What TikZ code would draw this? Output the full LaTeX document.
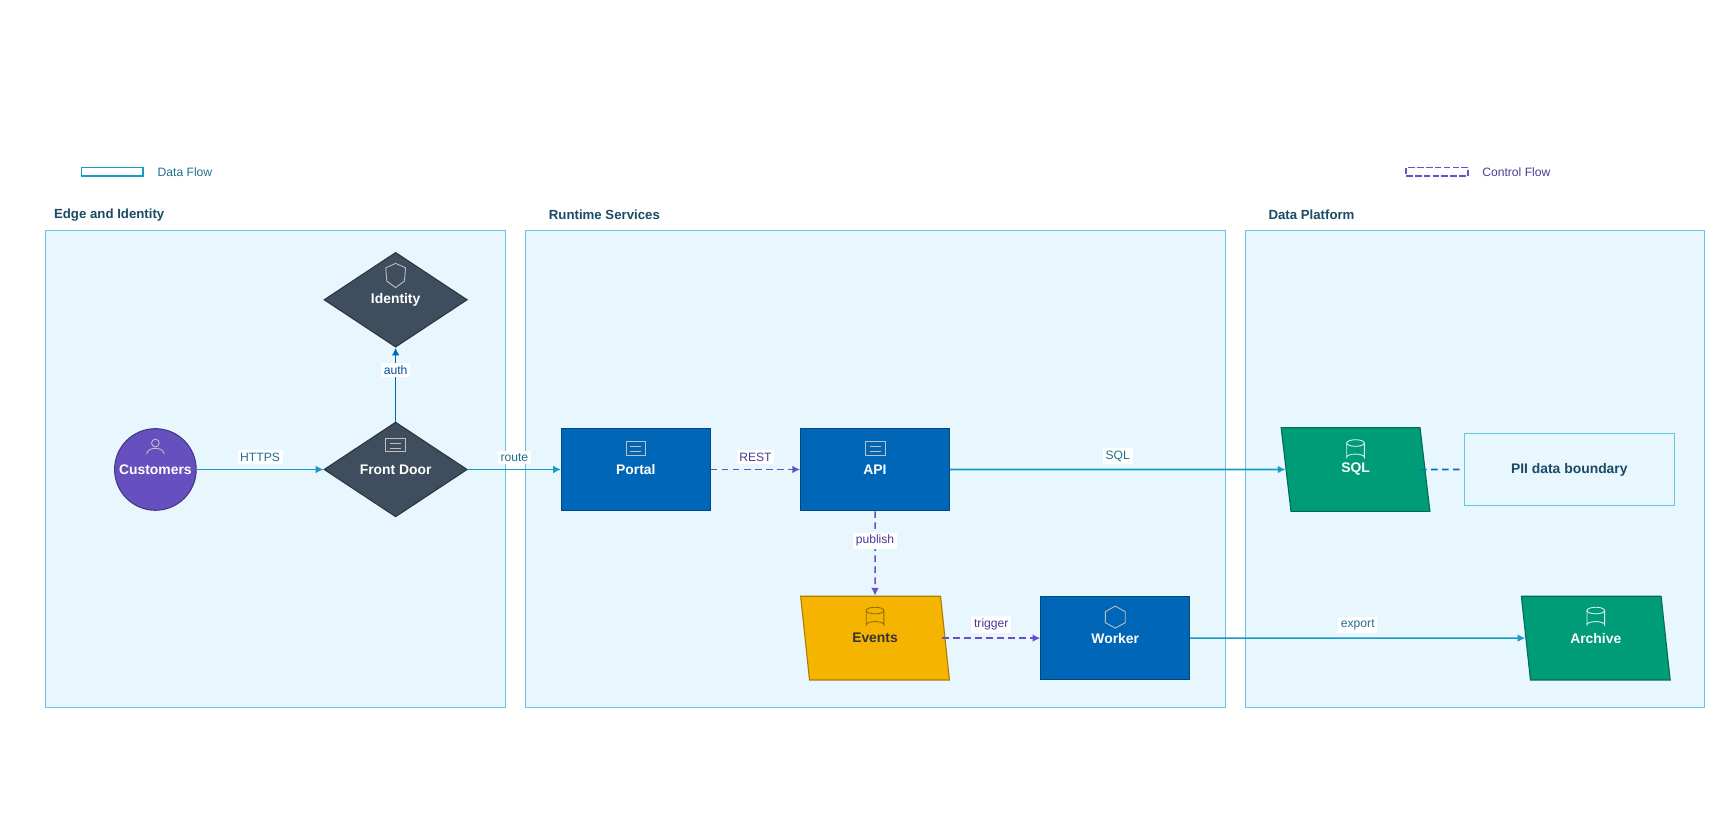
\documentclass[tikz,border=0pt]{standalone}
\usepackage{fontspec}
\setmainfont{Liberation Sans}
\usetikzlibrary{shapes.geometric,arrows.meta,positioning}

\definecolor{grpfill}{HTML}{E8F6FD}
\definecolor{grpline}{HTML}{6BC3E0}
\definecolor{dataflow}{HTML}{1A9BC4}
\definecolor{datatext}{HTML}{1F6E8C}
\definecolor{ctrlflow}{HTML}{6A4FC8}
\definecolor{ctrltext}{HTML}{4B3A99}
\definecolor{persona}{HTML}{6650C0}
\definecolor{slate}{HTML}{3F4E5F}
\definecolor{azure}{HTML}{0067B8}
\definecolor{amber}{HTML}{F4B400}
\definecolor{jade}{HTML}{009B77}
\definecolor{titletext}{HTML}{1B4A66}

\tikzset{
  group/.style={draw=grpline, fill=grpfill, line width=0.5pt},
  grptitle/.style={anchor=west, text=titletext, font=\bfseries\fontsize{6}{7}\selectfont},
  box/.style={rectangle, draw=azure!70!black, fill=azure, text=white, minimum width=67.5pt, minimum height=37.5pt, font=\bfseries\fontsize{6.3}{8}\selectfont, line width=0.5pt},
  gate/.style={diamond, aspect=1.5, draw=slate!70!black, fill=slate, text=white, minimum width=65pt, minimum height=43pt, inner sep=0pt, font=\bfseries\fontsize{6.3}{8}\selectfont, line width=0.5pt},
  store/.style={trapezium, trapezium left angle=110, trapezium right angle=70, trapezium stretches body, minimum width=67.5pt, minimum height=38pt, text=white, font=\bfseries\fontsize{6.3}{8}\selectfont, line width=0.5pt},
  data/.style={draw=dataflow, line width=0.7pt, -{Latex[length=3.5pt,width=3.5pt]}},
  ctrl/.style={draw=ctrlflow, line width=0.7pt, dash pattern=on 3pt off 2pt, -{Latex[length=3.5pt,width=3.5pt]}},
  dlabel/.style={fill=white, text=datatext, inner sep=1.2pt, font=\fontsize{5.5}{6}\selectfont},
  clabel/.style={fill=white, text=ctrltext, inner sep=1.2pt, font=\fontsize{5.5}{6}\selectfont},
  icon/.style={draw=white!75!black, line width=0.4pt}
}

\begin{document}
\begin{tikzpicture}[x=0.5pt,y=-0.5pt]
  \useasboundingbox (0,0) rectangle (1568,740);

  %% LEGEND
  \draw[dataflow, line width=0.8pt] (74,152) rectangle (130,160);
  \node[anchor=west, text=datatext, font=\fontsize{5.5}{6}\selectfont] at (136,156) {Data Flow};
  \draw[ctrlflow, line width=0.8pt, dash pattern=on 3pt off 1pt] (1276,152) rectangle (1332,160);
  \node[anchor=west, text=ctrltext, font=\fontsize{5.5}{6}\selectfont] at (1338,156) {Control Flow};

  %% GROUPS
  \draw[group] (41,209) rectangle (459,642);
  \node[grptitle] at (42,195) {Edge and Identity};
  \draw[group] (477,209) rectangle (1112,642);
  \node[grptitle] at (491,195) {Runtime Services};
  \draw[group] (1130,209) rectangle (1547,642);
  \node[grptitle] at (1144,195) {Data Platform};

  %% NODES
  \node[circle, draw=persona!70!black, fill=persona, text=white, minimum size=37pt, inner sep=0pt, font=\bfseries\fontsize{6.3}{8}\selectfont, line width=0.5pt] (customers) at (141,426) {Customers};
  \node[gate] (frontdoor) at (359,426) {Front Door};
  \node[gate] (identity) at (359,272) {Identity};
  \node[box] (portal) at (577,426) {Portal};
  \node[box] (api) at (794,426) {API};
  \node[store, draw=amber!70!black, fill=amber, text=black!80] (events) at (794,579) {Events};
  \node[box] (worker) at (1012,579) {Worker};
  \node[store, draw=jade!70!black, fill=jade] (sql) at (1230,426) {SQL};
  \node[rectangle, draw=grpline, fill=grpfill, text=titletext, minimum width=95.5pt, minimum height=32.5pt, font=\bfseries\fontsize{6.3}{8}\selectfont] (pii) at (1424,426) {PII data boundary};
  \node[store, draw=jade!70!black, fill=jade] (archive) at (1448,579) {Archive};

  %% ICONS
  % person
  \draw[icon] (141,402) circle (3.5);
  \draw[icon] (133,412) .. controls (134,405) and (148,405) .. (149,412);
  % documents
  \foreach \cx/\cy in {359/404, 577/407, 794/407}{
    \draw[icon] (\cx-9,\cy-6) rectangle (\cx+9,\cy+6);
    \draw[icon] (\cx-5,\cy-1.5) -- (\cx+5,\cy-1.5);
    \draw[icon] (\cx-5,\cy+2.5) -- (\cx+5,\cy+2.5);
  }
  % shield
  \draw[icon] (359,239) -- (368,243) -- (367,255) -- (359,261) -- (351,255) -- (350,243) -- cycle;
  % cylinders
  \foreach \cx/\cy/\col in {794/560/amber!60!black, 1230/408/white!85!jade, 1448/560/white!85!jade}{
    \draw[draw=\col, line width=0.4pt] (\cx-8,\cy-6) -- (\cx-8,\cy+7) arc (180:360:8 and 3) -- (\cx+8,\cy-6);
    \draw[draw=\col, line width=0.4pt] (\cx,\cy-6) ellipse (8 and 3);
  }
  % hexagon
  \draw[icon] (1012,550) -- (1021,555) -- (1021,565) -- (1012,570) -- (1003,565) -- (1003,555) -- cycle;

  %% CONNECTORS
  \draw[data] (customers) -- node[dlabel, above=2pt] {HTTPS} (frontdoor);
  \draw[data, draw=azure] (frontdoor) -- node[dlabel, text=azure!80!black, pos=0.7] {auth} (identity);
  \draw[data] (frontdoor) -- node[dlabel, above=2pt] {route} (portal);
  \draw[ctrl] (portal) -- node[clabel, above=2pt] {REST} (api);
  \draw[data] (api) -- node[dlabel, above=2pt] {SQL} (sql);
  \draw[ctrl] (api) -- node[clabel, pos=0.35] {publish} (events);
  \draw[ctrl] (events.east |- worker) ++(-3,0) coordinate (evout) -- node[clabel, above=2pt] {trigger} (worker);
  \draw[data] (worker) -- node[dlabel, above=2pt] {export} (archive);
  \draw[draw=azure!80!dataflow, line width=0.7pt, dash pattern=on 3pt off 2pt] (sql.east) ++(-5,0) -- (pii);
\end{tikzpicture}
\end{document}
